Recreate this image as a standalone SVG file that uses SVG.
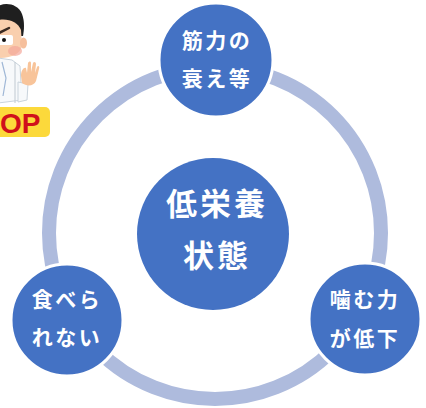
<svg xmlns="http://www.w3.org/2000/svg" width="426" height="408" viewBox="0 0 426 408">
  <style>
    .node { fill: #4472c4; stroke: #ffffff; stroke-width: 3; }
    .hub { fill: #4472c4; }
    .label { fill: #ffffff; font-family: "Noto Sans CJK JP", "Noto Sans", sans-serif; font-weight: bold; text-anchor: middle; dominant-baseline: central; }
    .small { font-size: 21px; letter-spacing: 2.5px; }
    .big { font-size: 31px; letter-spacing: 3px; }
  </style>

  <!-- doctor illustration, partly cut off at the left edge -->
  <g id="illustration">
    <!-- hair -->
    <path d="M-2,6 C6,2 18,4 22,14 C25,22 24,30 23,36 L-2,36 Z" fill="#1f1f1f"/>
    <!-- face and ear -->
    <path d="M-2,20 C8,18 18,22 21,30 L22,46 C20,54 12,58 -2,58 Z" fill="#f9cfae"/>
    <ellipse cx="23.5" cy="43" rx="3.5" ry="5.5" fill="#f6bf9c"/>
    <!-- eyebrow, eye and blush -->
    <path d="M-1,33 L9,28" stroke="#3a2a22" stroke-width="2.5" stroke-linecap="round"/>
    <rect x="-2" y="35" width="15" height="10" rx="2" fill="#ffffff"/>
    <circle cx="4" cy="40" r="2" fill="#111111"/>
    <ellipse cx="15" cy="51" rx="7" ry="5" fill="#f4a79a" opacity="0.7"/>
    <!-- white coat -->
    <path d="M-2,58 L12,60 L20,66 L22,100 L-2,103 Z" fill="#f7f9fb" stroke="#c9d3dc" stroke-width="1"/>
    <path d="M2,62 L6,78 L3,96" fill="none" stroke="#9fb7d6" stroke-width="1.2"/>
    <path d="M15,62 L15,103" stroke="#c0c9d1" stroke-width="1"/>
    <!-- sleeve and raised hand -->
    <path d="M18,82 L28,84 L27,100 L18,102 Z" fill="#f7f9fb" stroke="#c9d3dc" stroke-width="1"/>
    <path d="M21,76 C21,70 24,67 26,68 L27,73 L28,63 C29,61 31,61 31,63 L31,72 L33,63 C34,61 36,62 36,64 L35,73 L37,67 C38,65 40,66 39,69 L36,81 C34,86 27,87 22,83 Z" fill="#f8c49a"/>
    <!-- STOP sign -->
    <rect x="-10" y="107" width="60" height="30" rx="5" fill="#fcd93b"/>
    <text x="0" y="133" font-family="Liberation Sans, Arial, sans-serif" font-weight="bold" font-size="28" fill="#d0101b">OP</text>
  </g>

  <!-- connectors: the cycle ring joining the three factors -->
  <g id="connectors">
    <circle cx="215" cy="233" r="166" fill="none" stroke="#aebbdd" stroke-width="14"/>
  </g>

  <g id="hub">
    <circle class="hub" cx="213" cy="234" r="76"/>
    <text class="label big" x="217" y="201">低栄養</text>
    <text class="label big" x="217" y="253">状態</text>
  </g>

  <g id="node-muscle">
    <circle class="node" cx="216" cy="60" r="57"/>
    <text class="label small" x="217" y="39">筋力の</text>
    <text class="label small" x="217" y="77">衰え等</text>
  </g>

  <g id="node-eating">
    <circle class="node" cx="67" cy="320" r="56"/>
    <text class="label small" x="67" y="298">食べら</text>
    <text class="label small" x="67" y="336">れない</text>
  </g>

  <g id="node-chewing">
    <circle class="node" cx="365" cy="319" r="56"/>
    <text class="label small" x="365" y="298">噛む力</text>
    <text class="label small" x="365" y="337">が低下</text>
  </g>
</svg>
